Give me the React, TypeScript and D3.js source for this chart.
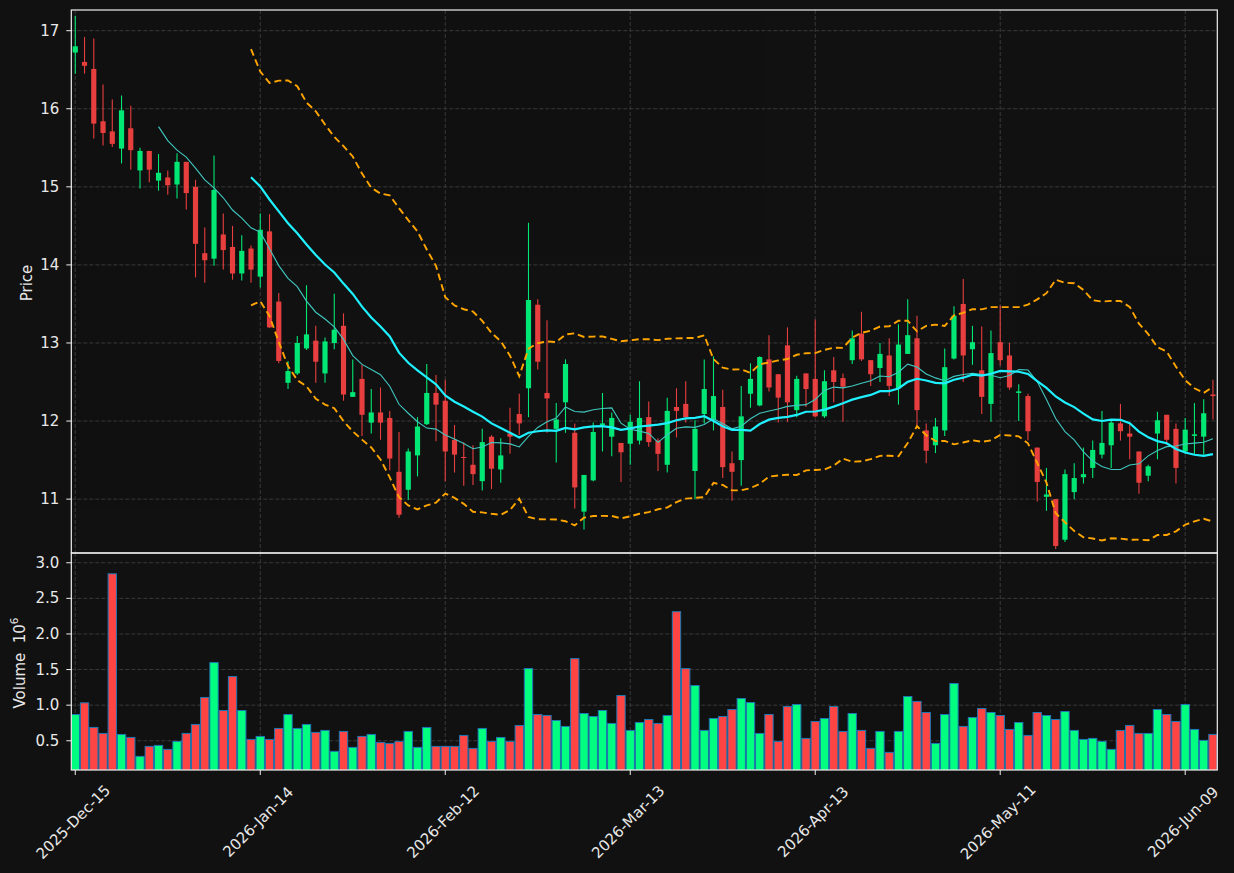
import React, { useEffect } from "react";
import * as d3 from "d3";

// ---- Data ----
const opens = [16.72,16.60,16.51,15.84,15.71,15.49,15.75,15.21,15.46,15.08,15.12,15.03,15.32,15.00,14.15,14.08,14.39,14.23,13.89,14.21,
13.85,14.43,13.53,12.49,12.61,12.93,13.03,12.61,13.00,13.22,12.31,12.54,11.98,12.11,12.04,11.35,11.12,11.56,11.96,12.36,
12.26,11.76,11.54,11.44,11.23,11.80,11.38,11.84,12.09,12.42,13.49,12.36,11.90,12.24,11.85,10.84,11.24,11.95,11.80,11.72,
11.71,11.75,12.05,11.75,11.44,12.18,12.22,11.36,12.09,12.01,12.18,11.46,11.50,12.35,12.20,12.79,12.60,12.97,12.14,12.61,
12.54,12.06,12.65,12.55,12.78,13.12,12.78,12.68,12.84,12.42,12.86,13.06,11.88,11.69,11.88,12.80,13.50,12.92,12.65,12.22,
13.01,12.84,12.36,12.32,11.66,11.03,11.00,10.48,11.09,11.28,11.40,11.57,11.69,11.97,11.84,11.61,11.30,11.84,12.08,11.90,
11.61,11.81,11.80,12.34];
const highs = [17.19,16.92,16.90,16.31,16.12,16.17,16.04,15.50,15.46,15.42,15.21,15.43,15.32,15.09,14.48,15.40,14.66,14.50,14.38,14.25,
14.66,14.65,13.64,12.77,13.09,13.74,13.22,13.07,13.63,13.38,12.79,12.72,12.41,12.43,12.13,11.86,11.65,12.05,12.73,12.59,
12.53,11.95,11.73,11.69,11.90,11.82,11.78,12.17,12.35,14.54,13.56,13.29,12.23,12.79,11.97,11.31,11.98,12.36,12.11,11.72,
12.08,12.51,12.25,11.78,12.30,12.42,12.51,12.01,12.79,12.83,12.40,11.61,12.45,12.74,12.83,13.10,12.60,13.20,12.58,12.61,
13.30,12.65,12.82,12.61,13.16,13.40,12.78,13.00,13.06,13.24,13.56,13.35,11.97,12.04,12.93,13.47,13.82,13.22,13.21,13.16,
13.48,13.00,12.47,12.35,11.66,11.40,11.00,11.38,11.46,11.66,11.75,12.13,12.02,12.22,11.96,11.61,11.44,12.12,12.08,11.97,
12.04,12.23,12.28,12.53];
const lows = [16.45,16.45,15.62,15.53,15.51,15.30,15.22,14.98,15.06,14.95,14.90,14.85,14.71,13.84,13.77,13.99,13.94,13.81,13.80,13.77,
13.71,13.19,12.74,12.41,12.59,12.91,12.49,12.49,12.92,12.26,12.31,11.81,11.84,11.76,11.37,10.76,10.99,11.29,11.95,11.74,
11.23,11.34,11.17,11.18,11.11,11.13,11.21,11.58,11.82,12.05,12.66,11.85,11.47,11.85,10.88,10.61,11.23,11.61,11.55,11.22,
11.44,11.70,11.67,11.36,11.34,11.79,11.98,11.00,11.97,11.88,11.27,10.98,11.17,12.17,12.19,12.38,11.98,11.99,12.05,12.18,
12.05,12.04,12.24,11.99,12.73,12.77,12.45,12.50,12.32,12.21,12.86,11.95,11.46,11.59,11.81,12.79,12.50,12.72,12.09,11.99,
12.71,12.40,12.00,11.75,10.97,10.85,10.36,10.45,11.00,11.20,11.27,11.52,11.40,11.75,11.51,11.07,11.23,11.51,11.70,11.20,
11.58,11.57,11.57,12.02];
const closes = [16.80,16.55,15.81,15.69,15.55,15.98,15.47,15.46,15.22,15.18,15.02,15.32,14.92,14.27,14.06,14.96,14.19,13.89,14.18,13.94,
14.45,13.20,12.77,12.64,13.00,13.11,12.76,13.02,13.17,12.34,12.37,12.08,12.11,11.98,11.52,10.80,11.61,11.93,12.36,12.21,
11.61,11.57,11.53,11.32,11.73,11.39,11.56,11.80,11.97,13.55,12.76,12.29,12.02,12.73,11.15,11.31,11.86,11.97,12.04,11.60,
11.99,12.04,11.73,11.58,12.13,12.13,12.05,11.90,12.41,12.32,11.41,11.35,12.06,12.54,12.82,12.43,12.30,12.24,12.54,12.41,
12.06,12.51,12.50,12.44,13.06,12.79,12.60,12.86,12.45,12.98,13.10,12.14,11.62,11.93,12.69,13.35,12.84,13.01,12.31,12.87,
12.78,12.43,12.38,11.87,11.22,11.06,10.40,11.32,11.27,11.32,11.63,11.72,11.98,11.87,11.80,11.21,11.42,12.01,11.76,11.40,
11.89,11.83,12.10,12.32];
// volume in millions (10^6)
const volumes = [0.869,1.033,0.687,0.603,2.845,0.589,0.547,0.281,0.421,0.435,
0.379,0.491,0.603,0.729,1.108,1.598,0.925,1.402,0.925,0.519,
0.561,0.519,0.673,0.869,0.673,0.729,0.617,0.645,0.351,0.631,
0.407,0.561,0.589,0.477,0.463,0.491,0.631,0.407,0.687,0.421,
0.421,0.421,0.575,0.393,0.673,0.491,0.547,0.491,0.715,1.514,
0.869,0.855,0.785,0.701,1.654,0.883,0.841,0.925,0.743,1.136,
0.645,0.757,0.799,0.743,0.855,2.313,1.514,1.276,0.645,0.813,
0.841,0.939,1.094,1.037,0.603,0.869,0.491,0.981,1.009,0.533,
0.771,0.813,0.981,0.631,0.883,0.645,0.393,0.631,0.337,0.631,
1.122,1.052,0.897,0.463,0.869,1.304,0.701,0.827,0.953,0.897,
0.855,0.659,0.757,0.575,0.897,0.855,0.799,0.911,0.645,0.519,
0.533,0.491,0.379,0.645,0.715,0.603,0.603,0.939,0.869,0.771,
1.009,0.659,0.505,0.589];
const xTickIndex = [0, 20, 40, 60, 80, 100, 120];
const xTickLabels = ["2025-Dec-15","2026-Jan-14","2026-Feb-12","2026-Mar-13","2026-Apr-13","2026-May-11","2026-Jun-09"];
const priceTicks = [11, 12, 13, 14, 15, 16, 17];
const volumeTicks = [0.5, 1.0, 1.5, 2.0, 2.5, 3.0];

// ---- derived series (moving averages / bollinger from closes) ----
function sma(arr: number[], n: number): (number | null)[] {
  return arr.map((_, i) => (i < n - 1 ? null : d3.mean(arr.slice(i - n + 1, i + 1)) as number));
}
function band(arr: number[], n: number, k: number): (number | null)[] {
  return arr.map((_, i) => {
    if (i < n - 1) return null;
    const w = arr.slice(i - n + 1, i + 1);
    const m = d3.mean(w) as number;
    const sd = Math.sqrt(d3.mean(w.map((v) => (v - m) * (v - m))) as number);
    return m + k * sd;
  });
}

const W = 1234, H = 873;
const L = 71.3, R = 1217.3, PT = 10, PB = 553, VB = 770;
const BG = "#111111";
const UP = "#00ff80", DOWN = "#ff4444";
const TXT = "#e8e8e8";
const GRID = "#3a3a3a";
const FONT = "DejaVu Sans, sans-serif";
const FS = 15;

export default function App() {
  useEffect(() => {
    document.body.style.margin = "0";
    document.body.style.background = BG;
  }, []);

  const n = closes.length;
  const x = d3.scaleLinear().domain([-0.43, 123.47]).range([L, R]);
  const yP = d3.scaleLinear().domain([10.31, 17.265]).range([PB, PT]);
  const yV = d3.scaleLinear().domain([0.0895, 3.137]).range([VB, PB]);
  const step = x(1) - x(0);
  const bodyW = step * 0.56;
  const volW = step * 0.9;

  const ma10 = sma(closes, 10);
  const ma20 = sma(closes, 20);
  const up2 = band(closes, 20, 2);
  const lo2 = band(closes, 20, -2);
  const line = d3
    .line<number | null>()
    .defined((d) => d !== null)
    .x((_, i) => x(i))
    .y((d) => yP(d as number));

  const idx = d3.range(n);

  return (
    <svg width={W} height={H} style={{ display: "block", position: "absolute", left: 0, top: 0, background: BG }} fontFamily={FONT}>
      <defs>
        <clipPath id="cp"><rect x={L} y={PT} width={R - L} height={PB - PT} /></clipPath>
        <clipPath id="cv"><rect x={L} y={PB} width={R - L} height={VB - PB} /></clipPath>
      </defs>
      <rect x={0} y={0} width={W} height={H} fill={BG} />

      {/* grids */}
      <g stroke={GRID} strokeWidth={1} strokeDasharray="4,2" fill="none">
        {priceTicks.map((t) => (
          <line key={"pg" + t} x1={L} x2={R} y1={yP(t)} y2={yP(t)} />
        ))}
        {volumeTicks.map((t) => (
          <line key={"vg" + t} x1={L} x2={R} y1={yV(t)} y2={yV(t)} />
        ))}
        {xTickIndex.map((t) => (
          <g key={"xg" + t}>
            <line x1={x(t)} x2={x(t)} y1={PT} y2={PB} />
            <line x1={x(t)} x2={x(t)} y1={PB} y2={VB} />
          </g>
        ))}
      </g>

      {/* candles */}
      <g clipPath="url(#cp)" opacity={0.9}>
        {idx.map((i) => {
          const o = opens[i], c = closes[i];
          const col = c >= o ? UP : DOWN;
          const top = yP(Math.max(o, c));
          const bot = yP(Math.min(o, c));
          return (
            <g key={"c" + i}>
              <line x1={x(i)} x2={x(i)} y1={yP(highs[i])} y2={yP(lows[i])} stroke={col} strokeWidth={1.1} />
              <rect x={x(i) - bodyW / 2} y={top} width={bodyW} height={Math.max(bot - top, 1)} fill={col} />
            </g>
          );
        })}
      </g>

      {/* moving averages & bands */}
      <g clipPath="url(#cp)" fill="none">
        <path d={line(up2) || ""} stroke="#ffa500" strokeWidth={1.9} strokeDasharray="7,4" />
        <path d={line(lo2) || ""} stroke="#ffa500" strokeWidth={1.9} strokeDasharray="7,4" />
        <path d={line(ma10) || ""} stroke="#40c8c0" strokeWidth={1.1} />
        <path d={line(ma20) || ""} stroke="#1ef0ff" strokeWidth={2.2} />
      </g>

      {/* volume */}
      <g clipPath="url(#cv)">
        {idx.map((i) => (
          <rect
            key={"v" + i}
            x={x(i) - volW / 2}
            y={yV(volumes[i])}
            width={volW}
            height={yV(0) - yV(volumes[i])}
            fill={closes[i] >= opens[i] ? UP : DOWN}
            stroke="#1f77b4"
            strokeWidth={1}
          />
        ))}
      </g>

      {/* spines */}
      <g fill="none" stroke="#f0f0f0" strokeWidth={1.2}>
        <rect x={L} y={PT} width={R - L} height={PB - PT} />
        <rect x={L} y={PB} width={R - L} height={VB - PB} />
      </g>

      {/* ticks and labels */}
      <g fill={TXT} fontSize={FS}>
        {priceTicks.map((t) => (
          <g key={"pt" + t}>
            <line x1={L - 5} x2={L} y1={yP(t)} y2={yP(t)} stroke="#f0f0f0" strokeWidth={1} />
            <text x={L - 12} y={yP(t)} textAnchor="end" dominantBaseline="central">{t}</text>
          </g>
        ))}
        {volumeTicks.map((t) => (
          <g key={"vt" + t}>
            <line x1={L - 5} x2={L} y1={yV(t)} y2={yV(t)} stroke="#f0f0f0" strokeWidth={1} />
            <text x={L - 12} y={yV(t)} textAnchor="end" dominantBaseline="central">{t.toFixed(1)}</text>
          </g>
        ))}
        {xTickIndex.map((t, k) => (
          <g key={"xt" + t}>
            <line x1={x(t)} x2={x(t)} y1={VB} y2={VB + 5} stroke="#f0f0f0" strokeWidth={1} />
            <text
              x={x(t) - 2}
              y={822}
              textAnchor="middle"
              dominantBaseline="central"
              transform={`rotate(-45, ${x(t) - 2}, 822)`}
            >
              {xTickLabels[k]}
            </text>
          </g>
        ))}
        <text x={27} y={283} textAnchor="middle" dominantBaseline="central" transform="rotate(-90, 27, 283)">Price</text>
        <text x={20} y={663} textAnchor="middle" dominantBaseline="central" transform="rotate(-90, 20, 663)">
          {"Volume\u00a0\u00a010"}<tspan fontSize={10.5} dy={-6}>6</tspan>
        </text>
      </g>
    </svg>
  );
}
